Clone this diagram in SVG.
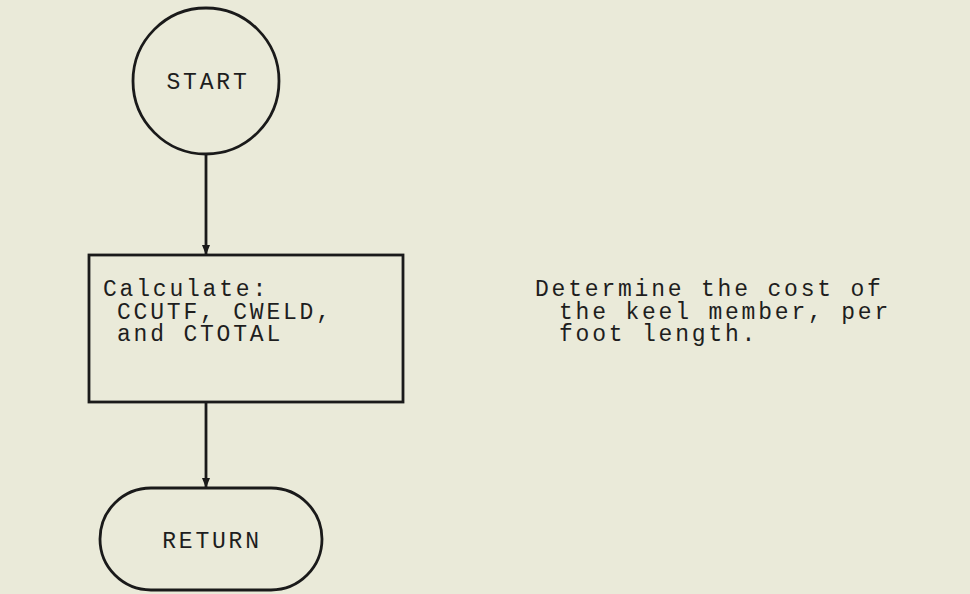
<svg xmlns="http://www.w3.org/2000/svg" width="970" height="594" viewBox="0 0 970 594">
<style>
.ln{fill:none;stroke:#1a1a1a;stroke-width:2.8}
.tx{font-family:"Liberation Mono","DejaVu Sans Mono",monospace;font-size:23px;letter-spacing:2.8px;fill:#1e1e1e}
</style>
<defs>
<marker id="ah" viewBox="0 0 10 10" refX="10" refY="5" markerWidth="3.6" markerHeight="3.6" orient="auto" markerUnits="strokeWidth">
<path d="M0,1 L10,5 L0,9 z" fill="#1a1a1a"/>
</marker>
</defs>
<rect width="970" height="594" fill="#eaead9"/>
<g id="connectors">
<line class="ln" x1="206" y1="154" x2="206" y2="255" marker-end="url(#ah)"/>
<line class="ln" x1="206" y1="402" x2="206" y2="488" marker-end="url(#ah)"/>
</g>
<g id="start">
<circle class="ln" cx="206" cy="81" r="73"/>
<text class="tx" x="208" y="89" text-anchor="middle">START</text>
</g>
<g id="calc">
<rect class="ln" x="89" y="255" width="314" height="147"/>
<text class="tx" x="103" y="296">Calculate:</text>
<text class="tx" x="117" y="318.5">CCUTF, CWELD,</text>
<text class="tx" x="117" y="341">and CTOTAL</text>
</g>
<g id="return">
<rect class="ln" x="100" y="488" width="222" height="102" rx="51" ry="51"/>
<text class="tx" x="212" y="548" text-anchor="middle">RETURN</text>
</g>
<g id="note">
<text class="tx" x="535" y="296">Determine the cost of</text>
<text class="tx" x="559" y="318.5">the keel member, per</text>
<text class="tx" x="559" y="341">foot length.</text>
</g>
</svg>
